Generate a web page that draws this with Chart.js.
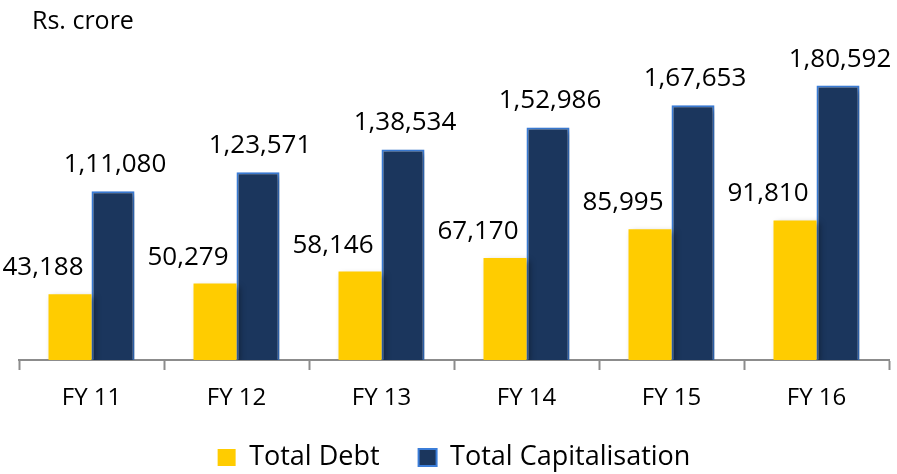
<!DOCTYPE html>
<html>
<head>
<meta charset="utf-8">
<script src="https://cdn.jsdelivr.net/npm/chart.js@4/dist/chart.umd.min.js"></script>
<style>
  html, body { margin: 0; padding: 0; background: #fff; }
  #wrap { width: 897px; height: 474px; position: relative; }
</style>
</head>
<body>
<div id="wrap"><canvas id="c"></canvas></div>
<script>
const categories = ['FY 11', 'FY 12', 'FY 13', 'FY 14', 'FY 15', 'FY 16'];
const totalDebt = [43188, 50279, 58146, 67170, 85995, 91810];
const totalCapitalisation = [111080, 123571, 138534, 152986, 167653, 180592];
const seriesNames = ['Total Debt', 'Total Capitalisation'];
const unitLabel = 'Rs. crore';

const FONT = '"Open Sans", "Noto Sans", sans-serif';

function indianFormat(n) {
  const s = String(Math.round(n));
  if (s.length <= 3) return s;
  const last3 = s.slice(-3);
  let rest = s.slice(0, -3);
  const parts = [];
  while (rest.length > 2) { parts.unshift(rest.slice(-2)); rest = rest.slice(0, -2); }
  if (rest.length) parts.unshift(rest);
  return parts.join(',') + ',' + last3;
}

const shadowPlugin = {
  id: 'barShadow',
  beforeDatasetDraw(chart) {
    const ctx = chart.ctx;
    ctx.save();
    ctx.shadowColor = 'rgba(0,0,0,0.35)';
    ctx.shadowBlur = 6;
    ctx.shadowOffsetX = 3;
    ctx.shadowOffsetY = 3;
  },
  afterDatasetDraw(chart) {
    chart.ctx.restore();
  }
};

const labelPlugin = {
  id: 'valueLabels',
  afterDatasetsDraw(chart, args, opts) {
    const ctx = chart.ctx;
    ctx.save();
    ctx.font = opts.font;
    ctx.fillStyle = '#000';
    ctx.textAlign = 'center';
    ctx.textBaseline = 'alphabetic';
    chart.data.datasets.forEach((ds, i) => {
      const meta = chart.getDatasetMeta(i);
      const dx = opts.offsets[i];
      meta.data.forEach((bar, j) => {
        const txt = indianFormat(ds.data[j]);
        let x = bar.x + dx;
        const w = ctx.measureText(txt).width;
        if (x - w / 2 < 2) x = 2 + w / 2;
        ctx.fillText(txt, x, bar.y - opts.gap);
      });
    });
    ctx.font = opts.titleFont;
    ctx.textAlign = 'left';
    ctx.fillText(unitLabel, 32, 29);
    ctx.restore();
  }
};

new Chart(document.getElementById('c'), {
  type: 'bar',
  data: {
    labels: categories,
    datasets: [
      {
        label: seriesNames[0],
        data: totalDebt,
        backgroundColor: '#FFCC00',
        borderColor: '#FFCC00',
        borderWidth: 0,
        categoryPercentage: 0.593,
        barPercentage: 1.0
      },
      {
        label: seriesNames[1],
        data: totalCapitalisation,
        backgroundColor: '#1B365D',
        borderColor: '#3B7DD8',
        borderWidth: 2,
        categoryPercentage: 0.593,
        barPercentage: 1.0
      }
    ]
  },
  options: {
    responsive: true,
    maintainAspectRatio: false,
    animation: false,
    layout: { padding: { top: 56, left: 19, right: 8, bottom: -7 } },
    scales: {
      x: {
        afterFit(scale) { scale.height = 45; },
        grid: {
          display: true,
          drawOnChartArea: false,
          drawTicks: true,
          tickLength: 10,
          tickWidth: 2,
          color: '#8C8C8C',
          offset: true
        },
        border: { display: true, color: '#8C8C8C', width: 2 },
        ticks: {
          color: '#000',
          font: { family: FONT, size: 24 },
          padding: 14
        }
      },
      y: {
        display: false,
        min: 0,
        max: 200000
      }
    },
    plugins: {
      legend: {
        position: 'bottom',
        labels: {
          color: '#000',
          font: { family: FONT, size: 27 },
          boxWidth: 18,
          boxHeight: 17,
          padding: 39
        }
      },
      tooltip: { enabled: false },
      valueLabels: {
        font: '26px ' + FONT,
        titleFont: '25px ' + FONT,
        offsets: [-27, 2],
        gap: 19
      }
    }
  },
  plugins: [shadowPlugin, labelPlugin]
});
</script>
</body>
</html>
